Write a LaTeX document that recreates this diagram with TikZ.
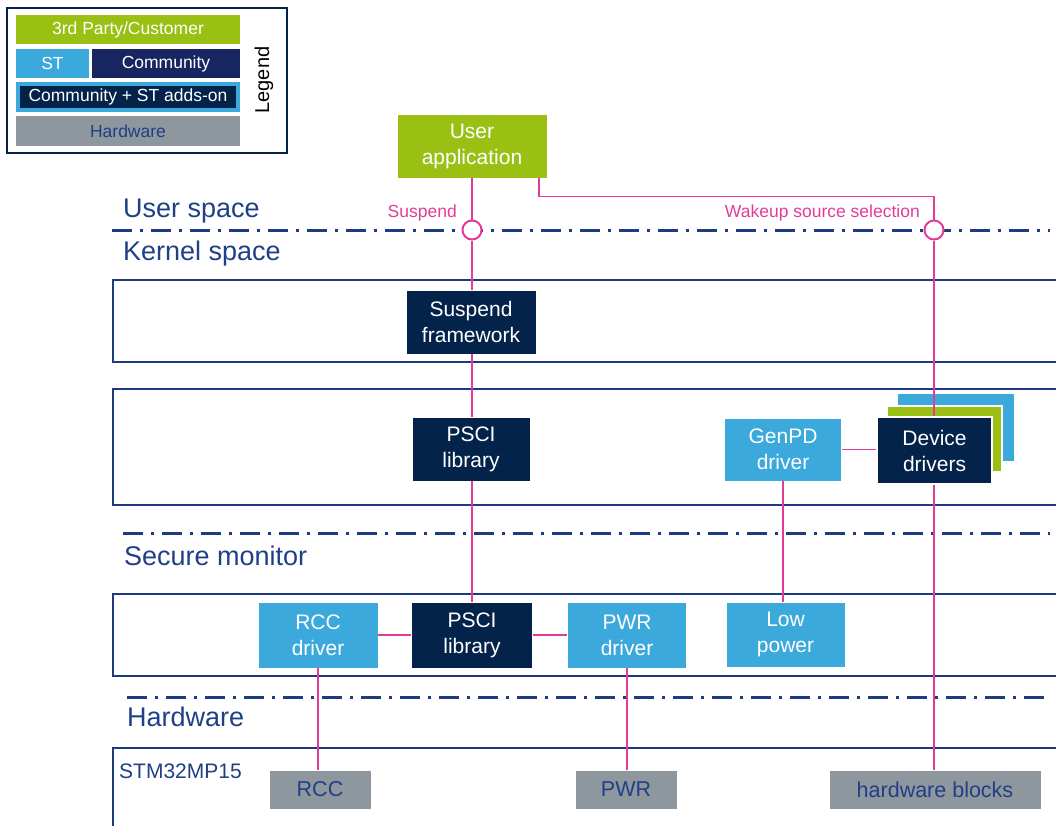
\documentclass[tikz,border=0pt]{standalone}
\usepackage{fontspec}
\setmainfont{Liberation Sans}
\definecolor{stgreen}{HTML}{9BC014}
\definecolor{stlblue}{HTML}{3CA9DC}
\definecolor{stnavy}{HTML}{03234B}
\definecolor{stcomm}{HTML}{172660}
\definecolor{stgrey}{HTML}{8F979E}
\definecolor{stpink}{HTML}{E33C98}
\definecolor{stline}{HTML}{1E3A80}
\definecolor{sttext}{HTML}{1F3F86}
\begin{document}
\begin{tikzpicture}[x=1pt,y=-1pt,
  blk/.style={rectangle, inner sep=0pt, align=center, text=white,
    font=\fontsize{21}{26}\selectfont, draw=white, line width=0.8pt},
  lb/.style={blk, fill=stlblue},
  nv/.style={blk, fill=stnavy},
  gr/.style={blk, fill=stgreen},
  hw/.style={rectangle, inner sep=0pt, fill=stgrey, draw=white, line width=0.8pt,
    text=sttext, font=\fontsize{21.5}{25}\selectfont},
  region/.style={draw=stline, line width=2.5pt},
  sep/.style={draw=stline, line width=3pt, dash pattern=on 20pt off 8pt on 3pt off 8pt},
  head/.style={anchor=base west, text=sttext, inner sep=0pt, font=\fontsize{27}{32}\selectfont},
  conn/.style={draw=stpink, line width=1.5pt},
  lbl/.style={anchor=base east, inner sep=0pt, text=stpink, font=\fontsize{17.5}{20}\selectfont},
  port/.style={circle, draw=stpink, line width=2pt, fill=white, minimum size=19pt, inner sep=0pt},
  lg/.style={rectangle, inner sep=0pt, font=\fontsize{17.5}{20}\selectfont, text=white}
]
\useasboundingbox (0,0) rectangle (1056,825);
\clip (0,0) rectangle (1056,825);

% legend
\draw[draw=stnavy, line width=2pt] (7,8) rectangle (287,153);
\node[lg, fill=stgreen, minimum width=224pt, minimum height=29pt] (lg1) at (128,29.5) {3rd Party/Customer};
\node[lg, fill=stlblue, minimum width=73pt, minimum height=29pt] (lg2) at (52.5,63.5) {ST};
\node[lg, fill=stcomm, minimum width=148pt, minimum height=29pt] (lg3) at (166,63.5) {Community};
\node[lg, fill=stlblue, minimum width=224pt, minimum height=30pt] (lg4o) at (128,97) {};
\node[lg, fill=stnavy, minimum width=216pt, minimum height=22pt] (lg4) at (128,97) {Community + ST adds-on};
\node[lg, fill=stgrey, minimum width=224pt, minimum height=30pt, text=sttext] (lg5) at (128,131) {Hardware};
\node[rotate=90, inner sep=0pt, font=\fontsize{20}{23}\selectfont] (lgt) at (264,80) {Legend};

% regions
\draw[region] (113,280) rectangle (1070,362);
\draw[region] (113,389) rectangle (1070,505);
\draw[region] (113,594) rectangle (1070,676);
\draw[region] (113,748) rectangle (1070,840);
\draw[sep] (112,230) -- (1050,230);
\draw[sep] (123,533) -- (1050,533);
\draw[sep] (127,697) -- (1050,697);

\node[head] (h1) at (123,217) {User space};
\node[head] (h2) at (123,260) {Kernel space};
\node[head] (h3) at (124,565) {Secure monitor};
\node[head] (h4) at (127,726) {Hardware};
\node[anchor=base west, inner sep=0pt, text=sttext, font=\fontsize{21}{25}\selectfont] (soc) at (119,778) {STM32MP15};

% device drivers stack
\fill[stlblue] (898,394) rectangle (1014,461);
\filldraw[fill=stgreen, draw=white, line width=1.5pt] (887,406) rectangle (1002,472);

% blocks
\node[gr, minimum width=150pt, minimum height=64pt] (ua) at (472,146) {User\\application};
\node[nv, minimum width=130pt, minimum height=64pt] (sf) at (471,322) {Suspend\\framework};
\node[nv, minimum width=118pt, minimum height=64pt] (psk) at (471,449) {PSCI\\library};
\node[lb, minimum width=117pt, minimum height=63pt] (gen) at (783,449.5) {GenPD\\driver};
\node[nv, minimum width=115pt, minimum height=67pt, line width=1.5pt] (dd) at (934.5,450.5) {Device\\drivers};
\node[lb, minimum width=120pt, minimum height=66pt] (rcc) at (318,635) {RCC\\driver};
\node[nv, minimum width=121pt, minimum height=66pt] (pss) at (472,635) {PSCI\\library};
\node[lb, minimum width=119pt, minimum height=66pt] (pwr) at (627,635) {PWR\\driver};
\node[lb, minimum width=119pt, minimum height=65pt] (lp) at (785.5,634.5) {Low\\power};
\node[hw, minimum width=102pt, minimum height=39pt] (rccg) at (320,789.5) {RCC};
\node[hw, minimum width=102pt, minimum height=39pt] (pwrg) at (626,789.5) {PWR};
\node[hw, minimum width=212pt, minimum height=39pt] (hwb) at (935,789.5) {hardware blocks};

% ports
\node[port] (c1) at (472,230) {};
\node[port] (c2) at (934,230) {};
\node[lbl] (l1) at (457,217) {Suspend};
\node[lbl] (l2) at (920,217) {Wakeup source selection};

% connectors
\draw[conn] (ua.south -| c1) -- (c1.north);
\draw[conn] (c1.south) -- (c1.south |- sf.north);
\draw[conn] (sf.south -| c1) -- (psk.north -| c1);
\draw[conn] (psk.south -| c1) -- (pss.north -| c1);
\draw[conn] ([xshift=67pt]ua.south) -- ++(0,18) -| (c2.north);
\draw[conn] (c2.south) -- (dd.north -| c2);
\draw[conn] (dd.south -| c2) -- (hwb.north -| c2);
\draw[conn] (gen.east) -- (gen.east -| dd.west);
\draw[conn] (gen.south) -- (gen.south |- lp.north);
\draw[conn] (rcc.east) -- (pss.west);
\draw[conn] (pss.east) -- (pwr.west);
\draw[conn] (rcc.south) -- (rcc.south |- rccg.north);
\draw[conn] (pwr.south) -- (pwr.south |- pwrg.north);
\end{tikzpicture}
\end{document}
